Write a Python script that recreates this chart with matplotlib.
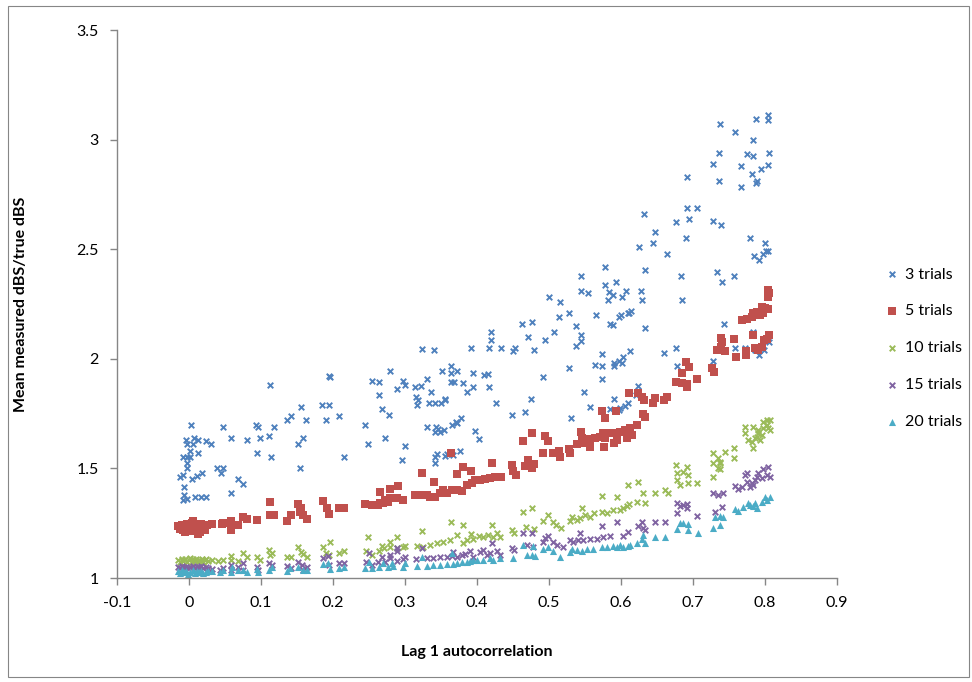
import matplotlib
matplotlib.use("Agg")
import matplotlib.pyplot as plt
from matplotlib.patches import Rectangle

# values (x = lag 1 autocorrelation, y = ratio)
trials_3 = [
    (0.1125, 1.88), (0.003, 1.70), (0.047, 1.69), (0.093, 1.70), (0.096, 1.69), (0.118, 1.69),
    (0.136, 1.72), (0.142, 1.74), (0.156, 1.78), (0.163, 1.72), (0.185, 1.79), (0.19, 1.72),
    (0.194, 1.92), (-0.004, 1.63), (0.007, 1.64), (0.0125, 1.63), (0.024, 1.625), (0.031, 1.61),
    (0.058, 1.64), (0.081, 1.63), (0.099, 1.64), (0.111, 1.65), (0.158, 1.64), (0.151, 1.61),
    (-0.003, 1.61), (0.006, 1.61), (0.001, 1.58), (-0.008, 1.55), (-0.003, 1.55), (0.001, 1.55),
    (0.0125, 1.57), (-0.003, 1.525), (-0.003, 1.50), (-0.0125, 1.46), (-0.008, 1.47), (0.004, 1.45),
    (0.011, 1.465), (0.018, 1.48), (0.039, 1.50), (0.047, 1.50), (0.044, 1.48), (0.068, 1.45),
    (0.075, 1.43), (0.094, 1.57), (0.114, 1.55), (0.154, 1.50), (-0.007, 1.415), (-0.007, 1.38),
    (-0.008, 1.355), (-0.003, 1.36), (0.008, 1.37), (0.017, 1.37), (0.024, 1.37), (0.058, 1.39),
    (0.324, 2.045), (0.340, 2.04), (0.392, 2.05), (0.196, 1.917), (0.279, 1.944), (0.254, 1.90),
    (0.264, 1.895), (0.297, 1.90), (0.30, 1.88), (0.289, 1.86), (0.314, 1.87), (0.322, 1.875),
    (0.33, 1.91), (0.351, 1.944), (0.364, 1.967), (0.364, 1.935), (0.372, 1.944), (0.364, 1.894),
    (0.368, 1.894), (0.38, 1.89), (0.394, 1.935), (0.394, 1.87), (0.386, 1.85), (0.336, 1.85),
    (0.315, 1.826), (0.318, 1.81), (0.317, 1.79), (0.333, 1.80), (0.342, 1.80), (0.35, 1.80),
    (0.356, 1.817), (0.356, 1.81), (0.264, 1.835), (0.268, 1.77), (0.278, 1.744), (0.194, 1.79),
    (0.208, 1.74), (0.244, 1.70), (0.272, 1.64), (0.249, 1.61), (0.30, 1.60), (0.296, 1.54),
    (0.215, 1.55), (0.33, 1.69), (0.343, 1.69), (0.346, 1.68), (0.342, 1.666), (0.349, 1.666),
    (0.354, 1.675), (0.365, 1.70), (0.371, 1.71), (0.372, 1.705), (0.378, 1.73), (0.397, 1.67),
    (0.342, 1.55), (0.344, 1.566), (0.342, 1.525), (0.356, 1.556), (0.358, 1.566), (0.367, 1.56),
    (0.376, 1.58), (0.578, 2.42), (0.544, 2.38), (0.578, 2.337), (0.593, 2.35), (0.583, 2.305),
    (0.589, 2.29), (0.582, 2.27), (0.607, 2.31), (0.601, 2.28), (0.544, 2.31), (0.554, 2.30),
    (0.50, 2.28), (0.515, 2.26), (0.528, 2.21), (0.514, 2.19), (0.565, 2.20), (0.4625, 2.16),
    (0.476, 2.17), (0.5375, 2.15), (0.507, 2.12), (0.585, 2.16), (0.589, 2.155), (0.597, 2.19),
    (0.60, 2.20), (0.61, 2.21), (0.42, 2.12), (0.42, 2.085), (0.471, 2.10), (0.494, 2.085),
    (0.544, 2.11), (0.544, 2.08), (0.5375, 2.06), (0.417, 2.05), (0.433, 2.05), (0.453, 2.05),
    (0.45, 2.035), (0.479, 2.04), (0.41, 1.926), (0.415, 1.93), (0.417, 1.87), (0.426, 1.80),
    (0.492, 1.917), (0.528, 1.96), (0.475, 1.817), (0.467, 1.757), (0.449, 1.744), (0.403, 1.634),
    (0.53, 1.73), (0.574, 2.02), (0.564, 1.97), (0.574, 1.967), (0.574, 1.91), (0.59, 1.98),
    (0.597, 1.99), (0.603, 2.01), (0.601, 1.98), (0.59, 1.967), (0.549, 1.85), (0.59, 1.817),
    (0.557, 1.78), (0.585, 1.77), (0.599, 1.775), (0.606, 1.785), (0.61, 1.80), (0.597, 1.766),
    (0.7375, 3.07), (0.758, 3.035), (0.7875, 3.094), (0.804, 3.11), (0.804, 3.09), (0.783, 3.00),
    (0.736, 2.94), (0.775, 2.934), (0.783, 2.925), (0.806, 2.94), (0.728, 2.89), (0.767, 2.88),
    (0.804, 2.884), (0.794, 2.866), (0.782, 2.843), (0.736, 2.81), (0.767, 2.784), (0.789, 2.81),
    (0.7875, 2.80), (0.692, 2.83), (0.692, 2.69), (0.706, 2.69), (0.694, 2.64), (0.728, 2.63),
    (0.739, 2.61), (0.676, 2.624), (0.632, 2.66), (0.647, 2.58), (0.644, 2.53), (0.69, 2.55),
    (0.625, 2.51), (0.664, 2.48), (0.779, 2.55), (0.8, 2.53), (0.801, 2.49), (0.804, 2.49),
    (0.797, 2.48), (0.785, 2.47), (0.792, 2.45), (0.633, 2.405), (0.683, 2.38), (0.733, 2.395),
    (0.74, 2.35), (0.757, 2.38), (0.628, 2.31), (0.629, 2.27), (0.685, 2.27), (0.614, 2.22),
    (0.611, 2.21), (0.743, 2.16), (0.783, 2.12), (0.758, 2.05), (0.772, 2.05), (0.786, 2.04),
    (0.792, 2.017), (0.799, 2.04), (0.806, 2.077), (0.728, 1.99), (0.676, 2.05), (0.66, 2.026),
    (0.678, 1.967), (0.633, 2.14), (0.6125, 2.035), (0.624, 1.876), (0.621, 1.835),
]

trials_5 = [
    (-0.015, 1.235), (-0.012, 1.225), (-0.01, 1.24), (-0.008, 1.22), (-0.005, 1.235), (-0.003, 1.245),
    (0.0, 1.23), (0.002, 1.215), (0.004, 1.25), (0.006, 1.26), (0.008, 1.24), (0.01, 1.225),
    (0.012, 1.235), (0.015, 1.21), (0.017, 1.245), (0.02, 1.23), (0.022, 1.22), (0.025, 1.24),
    (-0.006, 1.21), (0.013, 1.20), (0.032, 1.246), (0.046, 1.246), (0.047, 1.25), (0.058, 1.22),
    (0.058, 1.24), (0.058, 1.26), (0.068, 1.24), (0.075, 1.28), (0.081, 1.27), (0.094, 1.265),
    (0.1125, 1.347), (0.1125, 1.287), (0.118, 1.287), (0.136, 1.26), (0.142, 1.287), (0.151, 1.337),
    (0.156, 1.32), (0.154, 1.30), (0.158, 1.287), (0.164, 1.27), (0.186, 1.35), (0.192, 1.32),
    (0.194, 1.29), (0.208, 1.32), (0.215, 1.32), (0.244, 1.337), (0.254, 1.333), (0.2625, 1.333),
    (0.269, 1.34), (0.276, 1.347), (0.265, 1.34), (0.272, 1.356), (0.279, 1.365), (0.289, 1.365),
    (0.297, 1.356), (0.265, 1.394), (0.279, 1.406), (0.29, 1.42), (0.314, 1.38), (0.321, 1.38),
    (0.331, 1.38), (0.335, 1.37), (0.342, 1.37), (0.349, 1.39), (0.353, 1.40), (0.358, 1.39),
    (0.365, 1.40), (0.372, 1.40), (0.379, 1.397), (0.324, 1.48), (0.34, 1.44), (0.364, 1.57),
    (0.372, 1.474), (0.38, 1.506), (0.392, 1.49), (0.386, 1.424), (0.393, 1.433), (0.397, 1.447),
    (0.404, 1.447), (0.411, 1.45), (0.418, 1.456), (0.425, 1.46), (0.433, 1.46), (0.421, 1.525),
    (0.449, 1.515), (0.45, 1.49), (0.454, 1.47), (0.467, 1.51), (0.471, 1.54), (0.476, 1.50),
    (0.479, 1.52), (0.464, 1.625), (0.476, 1.66), (0.494, 1.65), (0.499, 1.625), (0.492, 1.57),
    (0.506, 1.57), (0.514, 1.58), (0.515, 1.55), (0.528, 1.59), (0.529, 1.57), (0.539, 1.61),
    (0.546, 1.616), (0.549, 1.62), (0.554, 1.634), (0.557, 1.60), (0.564, 1.64), (0.571, 1.643),
    (0.544, 1.666), (0.546, 1.64), (0.557, 1.598), (0.575, 1.66), (0.578, 1.64), (0.585, 1.66),
    (0.592, 1.66), (0.594, 1.63), (0.599, 1.666), (0.606, 1.675), (0.608, 1.64), (0.6125, 1.684),
    (0.615, 1.652), (0.622, 1.70), (0.578, 1.73), (0.574, 1.76), (0.593, 1.76), (0.576, 1.598),
    (0.59, 1.616), (0.611, 1.844), (0.624, 1.844), (0.629, 1.826), (0.632, 1.81), (0.631, 1.75),
    (0.633, 1.734), (0.644, 1.80), (0.647, 1.82), (0.66, 1.81), (0.664, 1.826), (0.676, 1.894),
    (0.685, 1.89), (0.692, 1.885), (0.692, 1.87), (0.685, 1.935), (0.69, 1.985), (0.694, 1.963),
    (0.706, 1.91), (0.726, 1.958), (0.729, 1.94), (0.733, 2.04), (0.739, 2.054), (0.744, 2.035),
    (0.739, 2.095), (0.757, 2.09), (0.74, 2.077), (0.76, 2.008), (0.774, 2.035), (0.774, 2.017),
    (0.783, 2.11), (0.786, 2.05), (0.79, 2.04), (0.796, 2.054), (0.799, 2.085), (0.803, 2.09),
    (0.806, 2.11), (0.768, 2.177), (0.775, 2.18), (0.782, 2.19), (0.783, 2.21), (0.789, 2.213),
    (0.793, 2.20), (0.796, 2.236), (0.8, 2.23), (0.804, 2.227), (0.797, 2.21), (0.804, 2.314),
    (0.806, 2.30), (0.804, 2.28),
]

trials_10 = [
    (-0.015, 1.08), (-0.012, 1.075), (-0.01, 1.085), (-0.008, 1.078), (-0.005, 1.088), (-0.003, 1.072),
    (0.0, 1.082), (0.002, 1.09), (0.004, 1.075), (0.006, 1.085), (0.008, 1.078), (0.01, 1.088),
    (0.012, 1.072), (0.014, 1.082), (0.016, 1.078), (0.018, 1.086), (0.02, 1.074), (0.022, 1.08),
    (0.024, 1.085), (0.026, 1.076), (0.032, 1.082), (0.04, 1.078), (0.047, 1.082), (0.058, 1.10),
    (0.058, 1.082), (0.068, 1.078), (0.075, 1.114), (0.081, 1.096), (0.094, 1.096), (0.099, 1.082),
    (0.111, 1.128), (0.115, 1.114), (0.1125, 1.105), (0.136, 1.096), (0.142, 1.096), (0.151, 1.14),
    (0.156, 1.12), (0.158, 1.11), (0.164, 1.096), (0.186, 1.14), (0.19, 1.114), (0.196, 1.164),
    (0.194, 1.105), (0.208, 1.114), (0.215, 1.123), (0.249, 1.187), (0.246, 1.123), (0.254, 1.105),
    (0.264, 1.123), (0.268, 1.146), (0.271, 1.137), (0.279, 1.164), (0.279, 1.141), (0.289, 1.137),
    (0.289, 1.187), (0.297, 1.14), (0.30, 1.146), (0.324, 1.214), (0.317, 1.146), (0.325, 1.14),
    (0.335, 1.15), (0.344, 1.16), (0.353, 1.164), (0.3625, 1.173), (0.364, 1.255), (0.372, 1.196),
    (0.38, 1.24), (0.38, 1.16), (0.386, 1.173), (0.392, 1.20), (0.394, 1.18), (0.403, 1.19),
    (0.408, 1.187), (0.415, 1.196), (0.421, 1.24), (0.422, 1.187), (0.428, 1.205), (0.432, 1.187),
    (0.449, 1.219), (0.451, 1.205), (0.464, 1.30), (0.468, 1.233), (0.476, 1.32), (0.479, 1.224),
    (0.492, 1.26), (0.499, 1.287), (0.506, 1.255), (0.51, 1.242), (0.517, 1.228), (0.529, 1.26),
    (0.532, 1.278), (0.539, 1.264), (0.546, 1.32), (0.543, 1.274), (0.55, 1.287), (0.557, 1.278),
    (0.5625, 1.296), (0.574, 1.374), (0.574, 1.30), (0.58, 1.296), (0.589, 1.31), (0.594, 1.37),
    (0.599, 1.31), (0.603, 1.32), (0.608, 1.328), (0.611, 1.337), (0.61, 1.424), (0.624, 1.438),
    (0.622, 1.347), (0.631, 1.388), (0.633, 1.342), (0.647, 1.388), (0.661, 1.40), (0.665, 1.388),
    (0.676, 1.515), (0.678, 1.479), (0.678, 1.447), (0.682, 1.424), (0.686, 1.484), (0.692, 1.506),
    (0.693, 1.47), (0.693, 1.433), (0.706, 1.433), (0.728, 1.46), (0.728, 1.525), (0.7375, 1.53),
    (0.7375, 1.497), (0.728, 1.57), (0.735, 1.547), (0.7375, 1.525), (0.735, 1.50), (0.744, 1.575),
    (0.757, 1.593), (0.757, 1.547), (0.772, 1.69), (0.772, 1.66), (0.783, 1.69), (0.776, 1.63),
    (0.783, 1.593), (0.79, 1.675), (0.789, 1.643), (0.793, 1.63), (0.797, 1.71), (0.803, 1.72),
    (0.807, 1.72), (0.797, 1.684), (0.804, 1.684), (0.79, 1.66), (0.782, 1.62), (0.786, 1.64),
    (0.796, 1.652), (0.803, 1.698), (0.807, 1.675),
]

trials_15 = [
    (-0.015, 1.05), (-0.012, 1.045), (-0.01, 1.055), (-0.007, 1.048), (-0.004, 1.052), (-0.001, 1.044),
    (0.002, 1.05), (0.005, 1.056), (0.008, 1.046), (0.011, 1.052), (0.014, 1.048), (0.017, 1.054),
    (0.02, 1.045), (0.023, 1.05), (0.026, 1.047), (0.032, 1.041), (0.043, 1.036), (0.047, 1.046),
    (0.058, 1.059), (0.058, 1.036), (0.068, 1.05), (0.075, 1.068), (0.075, 1.036), (0.094, 1.05),
    (0.096, 1.036), (0.111, 1.068), (0.115, 1.059), (0.136, 1.055), (0.142, 1.046), (0.151, 1.073),
    (0.157, 1.059), (0.158, 1.036), (0.164, 1.05), (0.186, 1.091), (0.193, 1.10), (0.194, 1.059),
    (0.208, 1.068), (0.215, 1.068), (0.246, 1.073), (0.25, 1.114), (0.254, 1.059), (0.2625, 1.073),
    (0.268, 1.096), (0.272, 1.073), (0.279, 1.105), (0.289, 1.123), (0.289, 1.078),
    (0.279, 1.091), (0.289, 1.137), (0.297, 1.087), (0.30, 1.096), (0.315, 1.087), (0.324, 1.137),
    (0.331, 1.091), (0.339, 1.091), (0.349, 1.096), (0.358, 1.096), (0.365, 1.10), (0.367, 1.119),
    (0.372, 1.096), (0.379, 1.105), (0.383, 1.109), (0.39, 1.123), (0.394, 1.096), (0.404, 1.119),
    (0.408, 1.128), (0.414, 1.105), (0.418, 1.114), (0.421, 1.16), (0.428, 1.123), (0.432, 1.105),
    (0.449, 1.137), (0.451, 1.128), (0.464, 1.205), (0.469, 1.15), (0.476, 1.205), (0.478, 1.141),
    (0.492, 1.164), (0.494, 1.182), (0.499, 1.19), (0.506, 1.164), (0.511, 1.15), (0.519, 1.141),
    (0.529, 1.173), (0.533, 1.164), (0.54, 1.173), (0.543, 1.205), (0.547, 1.173), (0.557, 1.178),
    (0.567, 1.178), (0.574, 1.237), (0.575, 1.187), (0.585, 1.19), (0.594, 1.255), (0.603, 1.19),
    (0.61, 1.21), (0.624, 1.237), (0.629, 1.255), (0.631, 1.228), (0.633, 1.219), (0.647, 1.255),
    (0.661, 1.255), (0.678, 1.342), (0.678, 1.297), (0.682, 1.328), (0.686, 1.333), (0.692, 1.338),
    (0.692, 1.32), (0.706, 1.283), (0.728, 1.388), (0.731, 1.30), (0.735, 1.379), (0.74, 1.324),
    (0.742, 1.388), (0.758, 1.42), (0.7625, 1.406), (0.768, 1.415), (0.772, 1.47), (0.775, 1.438),
    (0.782, 1.433), (0.786, 1.447), (0.789, 1.46), (0.79, 1.479), (0.796, 1.456), (0.797, 1.497),
    (0.803, 1.47), (0.804, 1.506), (0.807, 1.46), (0.779, 1.415), (0.783, 1.424), (0.775, 1.479),
]

trials_20 = [
    (-0.015, 1.03), (-0.012, 1.022), (-0.01, 1.035), (-0.007, 1.026), (-0.004, 1.032), (-0.001, 1.02),
    (0.002, 1.028), (0.005, 1.035), (0.008, 1.024), (0.011, 1.03), (0.014, 1.026), (0.017, 1.033),
    (0.02, 1.022), (0.023, 1.028), (0.026, 1.031), (0.032, 1.032), (0.043, 1.027), (0.047, 1.036),
    (0.058, 1.027), (0.06, 1.05), (0.068, 1.036), (0.075, 1.036), (0.081, 1.027), (0.094, 1.041),
    (0.096, 1.027), (0.111, 1.036), (0.115, 1.05), (0.136, 1.032), (0.14, 1.046), (0.151, 1.05),
    (0.158, 1.036), (0.164, 1.036), (0.186, 1.064), (0.193, 1.068), (0.196, 1.041), (0.208, 1.046),
    (0.215, 1.05), (0.244, 1.046), (0.25, 1.073), (0.254, 1.046), (0.264, 1.05), (0.269, 1.068),
    (0.276, 1.05), (0.282, 1.068), (0.283, 1.055), (0.297, 1.05), (0.30, 1.068), (0.317, 1.055),
    (0.324, 1.096), (0.331, 1.055), (0.339, 1.059), (0.349, 1.059), (0.358, 1.064), (0.365, 1.114),
    (0.367, 1.064), (0.372, 1.068), (0.379, 1.073), (0.386, 1.073), (0.39, 1.078), (0.394, 1.082),
    (0.40, 1.082), (0.408, 1.082), (0.418, 1.091), (0.422, 1.082), (0.432, 1.091), (0.45, 1.091),
    (0.464, 1.15), (0.469, 1.105), (0.476, 1.105), (0.478, 1.146), (0.481, 1.10), (0.492, 1.132),
    (0.499, 1.141), (0.506, 1.123), (0.515, 1.096), (0.529, 1.119), (0.532, 1.132), (0.539, 1.128),
    (0.546, 1.123), (0.553, 1.132), (0.561, 1.132), (0.574, 1.141), (0.581, 1.141), (0.589, 1.146),
    (0.594, 1.141), (0.599, 1.15), (0.603, 1.141), (0.61, 1.146), (0.6125, 1.15), (0.622, 1.16),
    (0.629, 1.178), (0.631, 1.196), (0.633, 1.16), (0.647, 1.187), (0.661, 1.187), (0.678, 1.224),
    (0.682, 1.251), (0.686, 1.251), (0.693, 1.246), (0.693, 1.219), (0.707, 1.205), (0.728, 1.228),
    (0.731, 1.278), (0.7375, 1.242), (0.7375, 1.283), (0.742, 1.278), (0.758, 1.315), (0.7625, 1.306),
    (0.769, 1.324), (0.776, 1.342), (0.779, 1.333), (0.786, 1.342), (0.789, 1.32), (0.796, 1.347),
    (0.80, 1.37), (0.803, 1.356), (0.807, 1.37), (0.783, 1.328),
]

series_labels = ["3 trials", "5 trials", "10 trials", "15 trials", "20 trials"]
series_colors = ["#4F81BD", "#C0504D", "#9BBB59", "#8064A2", "#4BACC6"]
series_markers = ["x", "s", "x", "x", "^"]
series_sizes = [16, 32, 16, 16, 26]

plt.rcParams['font.family'] = ['Lato', 'DejaVu Sans']

fig = plt.figure(figsize=(9.72, 6.82), dpi=100)
ax = fig.add_axes([117 / 972, 1 - 578 / 682, 720 / 972, 548 / 682])

all_series = [trials_3, trials_5, trials_10, trials_15, trials_20]
for pts, lab, col, mk, sz in zip(all_series, series_labels, series_colors, series_markers, series_sizes):
    xs = [p[0] for p in pts]
    ys = [p[1] for p in pts]
    if mk == "x":
        ax.scatter(xs, ys, s=sz, marker=mk, color=col, linewidths=1.4, label=lab)
    else:
        ax.scatter(xs, ys, s=sz, marker=mk, color=col, linewidths=0, label=lab)

ax.set_xlim(-0.1, 0.9)
ax.set_ylim(1, 3.5)
ax.set_xticks([-0.1, 0, 0.1, 0.2, 0.3, 0.4, 0.5, 0.6, 0.7, 0.8, 0.9])
ax.set_xticklabels(["-0.1", "0", "0.1", "0.2", "0.3", "0.4", "0.5", "0.6", "0.7", "0.8", "0.9"])
ax.set_yticks([1, 1.5, 2, 2.5, 3, 3.5])
ax.set_yticklabels(["1", "1.5", "2", "2.5", "3", "3.5"])

for side in ["top", "right"]:
    ax.spines[side].set_visible(False)
for side in ["left", "bottom"]:
    ax.spines[side].set_color("#868686")
    ax.spines[side].set_linewidth(1.0)
ax.tick_params(axis="both", direction="out", length=5, width=1.0, color="#868686",
               labelsize=11.5, labelcolor="black")
ax.tick_params(axis="x", pad=8)
ax.tick_params(axis="y", pad=8)

ax.set_xlabel("Lag 1 autocorrelation", fontsize=11.5, fontweight="bold", labelpad=25)
ax.set_ylabel("Mean measured dBS/true dBS", fontsize=11.5, fontweight="bold", labelpad=35)

leg = ax.legend(loc="upper left", bbox_to_anchor=(878 / 972, 1 - 261 / 682),
                bbox_transform=fig.transFigure, frameon=False, fontsize=11.5,
                labelspacing=1.42, handletextpad=0.3, handlelength=1.0, borderaxespad=0)

fig.patches.append(Rectangle((8 / 972, 5 / 682), 961 / 972, 671 / 682, transform=fig.transFigure,
                             fill=False, edgecolor="#868686", linewidth=0.8))

fig.savefig("out.png", dpi=100)
